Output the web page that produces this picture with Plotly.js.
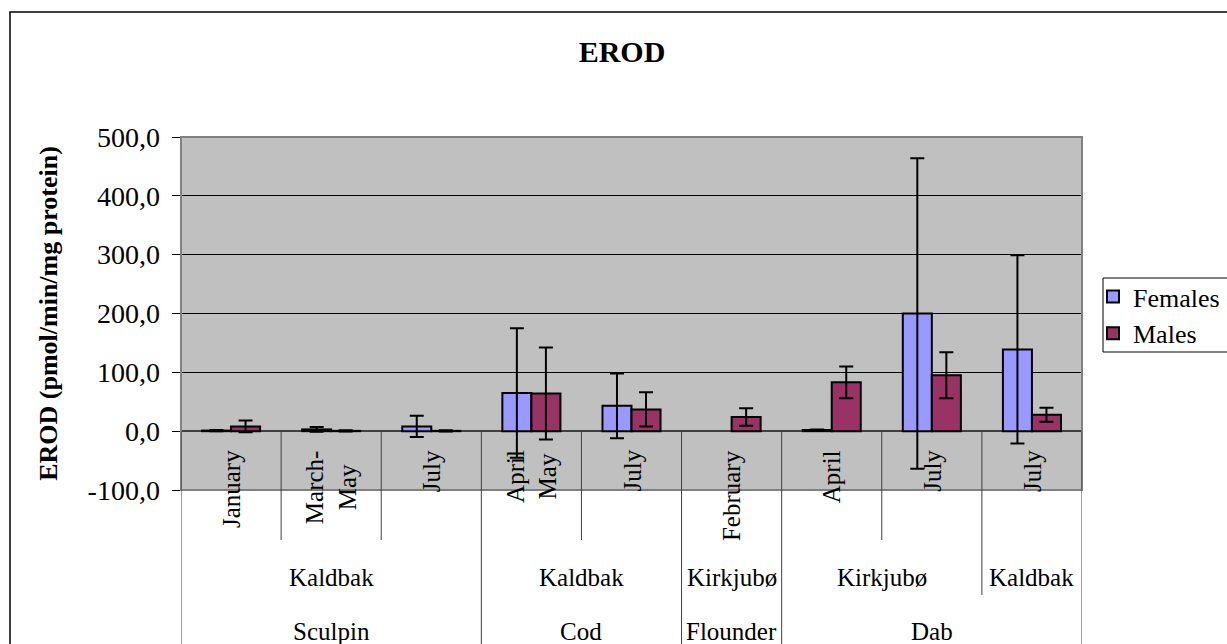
<!DOCTYPE html>
<html>
<head>
<meta charset="utf-8">
<script src="https://cdn.plot.ly/plotly-3.0.1.min.js"></script>
<style>
  html, body { margin: 0; padding: 0; background: #ffffff; }
  #chart { width: 1227px; height: 644px; }
</style>
</head>
<body>
<div id="chart"></div>
<script>
// ---- data ----
const monthLabels = ['January', 'March-<br>May', 'July', 'April<br>May', 'July', 'February', 'April', 'July', 'July'];
const siteLabels = ['Kaldbak', 'Kaldbak', 'Kirkjubø', 'Kirkjubø', 'Kaldbak'];
const siteSpans = [3, 2, 1, 2, 1];
const speciesLabels = ['Sculpin', 'Cod', 'Flounder', 'Dab'];
const speciesSpans = [3, 2, 1, 3];

const females = [1, 3, 8, 65, 43, null, 2, 200, 139];
const femalesErr = [1, 4, 18, 110, 55, null, 1, 264, 160];
const males = [8, 0.5, 0.5, 64, 37, 24, 83, 95, 28];
const malesErr = [10, 1, 1, 78, 29, 15, 27, 39, 12];

const yTickVals = [-100, 0, 100, 200, 300, 400, 500];
const yTickText = ['-100,0', '0,0', '100,0', '200,0', '300,0', '400,0', '500,0'];

// ---- layout constants ----
const W = 1227, H = 644;
const M = { l: 181, r: 145, t: 137, b: 154, autoexpand: false };
const PW = W - M.l - M.r, PH = H - M.t - M.b;
const yRange = [-100, 500];
const px2x = px => (px - M.l) / PW;
const px2y = py => (H - M.b - py) / PH;
const zeroPaper = (0 - yRange[0]) / (yRange[1] - yRange[0]);

const FONT = 'Liberation Serif, Times New Roman, serif';
const idx = monthLabels.map((_, i) => i);

const traces = [
  {
    type: 'bar', name: 'Females', x: idx, y: females,
    marker: { color: '#9999FF', line: { color: '#000000', width: 2 } },
    error_y: { type: 'data', array: femalesErr, visible: true, color: '#000000', thickness: 2, width: 7 }
  },
  {
    type: 'bar', name: 'Males', x: idx, y: males,
    marker: { color: '#993366', line: { color: '#000000', width: 2 } },
    error_y: { type: 'data', array: malesErr, visible: true, color: '#000000', thickness: 2, width: 7 }
  }
];

const shapes = [];
const annotations = [];

// outer chart border
shapes.push({ type: 'rect', xref: 'paper', yref: 'paper', x0: px2x(10), x1: px2x(1260), y0: px2y(700), y1: px2y(12),
  line: { color: '#000000', width: 1.5 }, fillcolor: 'rgba(0,0,0,0)', layer: 'below' });
// plot area border
shapes.push({ type: 'rect', xref: 'paper', yref: 'paper', x0: 0, x1: 1, y0: 0, y1: 1,
  line: { color: '#808080', width: 2 }, fillcolor: 'rgba(0,0,0,0)', layer: 'above' });
// legend box
shapes.push({ type: 'rect', xref: 'paper', yref: 'paper', x0: px2x(1103), x1: px2x(1260), y0: px2y(352), y1: px2y(278),
  line: { color: '#000000', width: 1 }, fillcolor: '#ffffff', layer: 'below' });

// category separators
const speciesBounds = new Set([-0.5]);
let acc = -0.5;
speciesSpans.forEach(s => { acc += s; speciesBounds.add(acc); });
const siteBounds = new Set();
acc = -0.5;
siteSpans.forEach(s => { acc += s; siteBounds.add(acc); });
for (let i = 0; i <= monthLabels.length; i++) {
  const b = i - 0.5;
  let yEnd;
  if (speciesBounds.has(b)) yEnd = px2y(700);
  else if (siteBounds.has(b)) yEnd = px2y(595);
  else yEnd = px2y(540);
  shapes.push({ type: 'line', xref: 'x', yref: 'paper', x0: b, x1: b, y0: zeroPaper, y1: yEnd,
    line: { color: '#404040', width: 1 }, layer: 'above' });
}

// month labels
monthLabels.forEach((m, i) => {
  annotations.push({ xref: 'x', yref: 'paper', x: i, y: px2y(448), text: m, textangle: -90,
    showarrow: false, xanchor: 'center', yanchor: 'top', align: 'center',
    font: { family: FONT, size: 25, color: '#000000' } });
});
// site labels
acc = 0;
siteLabels.forEach((s, k) => {
  const c = acc + (siteSpans[k] - 1) / 2;
  acc += siteSpans[k];
  annotations.push({ xref: 'x', yref: 'paper', x: c, y: px2y(577), text: s, showarrow: false,
    xanchor: 'center', yanchor: 'middle', font: { family: FONT, size: 25, color: '#000000' } });
});
// species labels
acc = 0;
speciesLabels.forEach((s, k) => {
  const c = acc + (speciesSpans[k] - 1) / 2;
  acc += speciesSpans[k];
  annotations.push({ xref: 'x', yref: 'paper', x: c, y: px2y(631), text: s, showarrow: false,
    xanchor: 'center', yanchor: 'middle', font: { family: FONT, size: 25, color: '#000000' } });
});

const layout = {
  width: W, height: H,
  margin: M,
  paper_bgcolor: '#ffffff',
  plot_bgcolor: '#C0C0C0',
  font: { family: FONT, size: 26, color: '#000000' },
  title: { text: '<b>EROD</b>', x: 622 / W, xanchor: 'center', y: 1 - 51 / H, yanchor: 'middle',
    font: { family: FONT, size: 30, color: '#000000' } },
  barmode: 'group', bargap: 0.42, bargroupgap: 0,
  showlegend: true,
  legend: { x: px2x(1093), xanchor: 'left', y: px2y(315), yanchor: 'middle',
    bgcolor: 'rgba(0,0,0,0)', borderwidth: 0, font: { family: FONT, size: 26, color: '#000000' },
    tracegroupgap: 0 },
  xaxis: { range: [-0.5, monthLabels.length - 0.5], showticklabels: false, showgrid: false,
    zeroline: false, showline: false, ticks: '', fixedrange: true },
  yaxis: { range: yRange, tickvals: yTickVals, ticktext: yTickText, showgrid: true, gridcolor: '#000000', gridwidth: 1,
    zeroline: true, zerolinecolor: '#404040', zerolinewidth: 1.5,
    showline: true, linecolor: '#000000', linewidth: 1.5, ticks: 'outside', ticklen: 8, tickcolor: '#000000', tickwidth: 1,
    ticklabelstandoff: 6,
    tickfont: { family: FONT, size: 28, color: '#000000' },
    title: { text: '<b>EROD (pmol/min/mg protein)</b>', font: { family: FONT, size: 26, color: '#000000' }, standoff: 22 } },
  shapes: shapes,
  annotations: annotations
};

Plotly.newPlot('chart', traces, layout, { staticPlot: true, displayModeBar: false });
</script>
</body>
</html>
